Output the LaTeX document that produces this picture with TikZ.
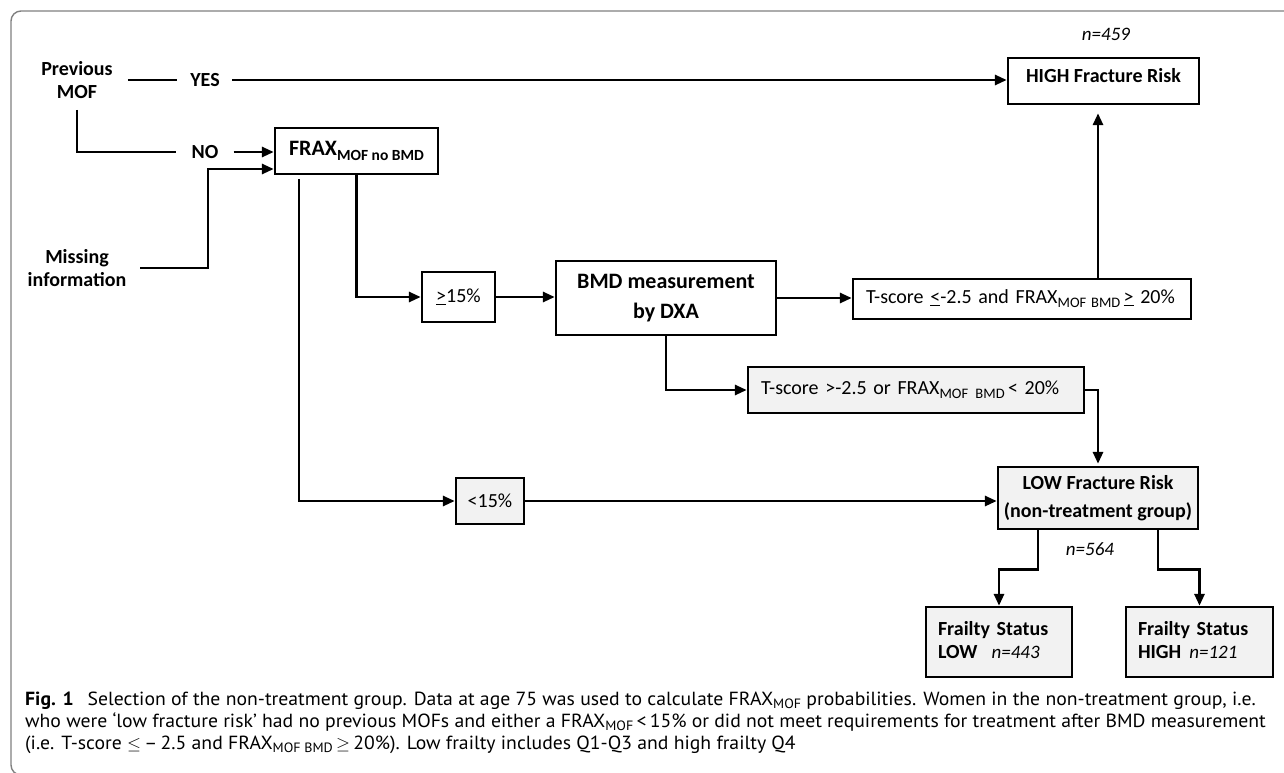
\documentclass[tikz,border=0pt]{standalone}
\usepackage{fontspec}
\setmainfont{Carlito}
\newfontfamily\capfont{PT Sans}
\usetikzlibrary{arrows.meta}
\definecolor{boxgray}{HTML}{F2F2F2}
\definecolor{framegray}{HTML}{808080}
\newcommand{\subA}[1]{\raisebox{-5pt}{\fontsize{15.5}{15.5}\selectfont #1}}
\newcommand{\subB}[1]{\raisebox{-4pt}{\fontsize{14.5}{14.5}\selectfont #1}}
\newcommand{\subC}[1]{\raisebox{-3.5pt}{\fontsize{13.5}{13.5}\selectfont #1}}
\newcommand{\capline}[1]{\scalebox{1.038}[1]{#1}}
\begin{document}
\begin{tikzpicture}[x=1pt,y=-1pt,
  box/.style={draw, line width=2.4pt, inner sep=0pt, align=center,
    font=\bfseries\fontsize{20}{23}\selectfont},
  graybox/.style={box, fill=boxgray},
  lbl/.style={inner sep=0pt, align=center, font=\bfseries\fontsize{20}{23}\selectfont},
  conn/.style={line width=2.9pt},
  arr/.style={conn, -{Triangle[length=12pt,width=10pt]}},
  nlab/.style={inner sep=0pt, font=\itshape\fontsize{19}{22}\selectfont},
  captxt/.style={inner sep=0pt, anchor=base west, font=\capfont\fontsize{19}{22}\selectfont}
]
\useasboundingbox (0,0) rectangle (1284,772);
% frame
\draw[framegray, line width=1.4pt, rounded corners=10pt] (1295,11) -- (11,11) -- (11,775) -- (1295,775);

% nodes
\node[lbl] (prev) at (77,80) {Previous\\MOF};
\node[lbl] (yes) at (205,80) {YES};
\node[lbl] (no) at (205,152) {NO};
\node[lbl] (miss) at (77,268) {Missing\\information};

\node[box, minimum width=191pt, minimum height=46pt] (high) at (1103.5,81) {\raisebox{12pt}{HIGH Fracture Risk}};
\node[box, minimum width=163pt, minimum height=46pt, font=\bfseries\fontsize{22}{26}\selectfont] (frax) at (356.5,151) {FRAX\subA{MOF no BMD}};
\node[box, minimum width=73pt, minimum height=50pt, font=\fontsize{20}{23}\selectfont] (ge15) at (458.5,297) {\underline{>}15\%};
\node[box, minimum width=220pt, minimum height=74pt, font=\bfseries\fontsize{22}{30}\selectfont] (bmd) at (666,298) {BMD measurement\\by DXA};
\node[box, minimum width=338pt, minimum height=40pt, text width=312pt, align=left, font=\fontsize{20}{23}\selectfont] (t1) at (1022,299) {T-score \underline{<}-2.5 and FRAX\subB{MOF\,\,BMD}\,\underline{>} 20\%};
\node[graybox, minimum width=336pt, minimum height=46pt, text width=310pt, align=left, font=\fontsize{20}{23}\selectfont] (t2) at (916,390) {T-score >-2.5 or FRAX\subB{MOF\,\,\,BMD}\,< 20\%};
\node[graybox, minimum width=68pt, minimum height=46pt, font=\fontsize{20}{23}\selectfont] (lt15) at (490,501) {<15\%};
\node[graybox, minimum width=200pt, minimum height=62pt, font=\bfseries\fontsize{20}{28}\selectfont] (low) at (1098,498) {LOW Fracture Risk\\(non-treatment group)};
\node[graybox, minimum width=146pt, minimum height=70pt, text width=122pt, align=left] (flow) at (999,642) {\raisebox{4pt}{Frailty Status}\\\raisebox{4pt}{LOW\hspace{14pt}{\mdseries\itshape\fontsize{19}{23}\selectfont n=443}}};
\node[graybox, minimum width=147pt, minimum height=70pt, text width=123pt, align=left] (fhigh) at (1199.5,642) {\raisebox{4pt}{Frailty Status}\\\raisebox{4pt}{HIGH\hspace{8pt}{\mdseries\itshape\fontsize{19}{23}\selectfont n=121}}};

\node[nlab] (n459) at (1106,34) {n=459};
\node[nlab] (n564) at (1090,549) {n=564};

% connectors
\draw[conn, shorten <=15pt, shorten >=13.5pt] (prev.east) -- (yes.west);
\draw[arr, shorten <=12.5pt] (yes.east) -- (high.west |- yes.east);
\draw[conn, shorten <=11pt, shorten >=15pt] (prev.south) |- (no.west);
\draw[arr, shorten <=15pt] (no.east) -- (frax.west |- no.east);
\coordinate (mbend) at (208,268);
\draw[arr, shorten <=14pt] (miss.east) -- (mbend) |- ([yshift=-18pt]frax.west);
\coordinate (fraxl) at ([xshift=-57.5pt]frax.south);
\draw[arr, shorten <=4pt] (fraxl) |- (lt15.west);
\draw[arr] (frax.south) |- (ge15.west);
\draw[arr] (ge15.east) -- (bmd.west |- ge15.east);
\draw[arr] (bmd.east) -- (t1.west |- bmd.east);
\draw[arr] (bmd.south) |- (t2.west);
\coordinate (tup) at ([xshift=76pt]t1.north);
\draw[arr, shorten >=8pt] (tup) -- (tup |- high.south);
\draw[arr, shorten >=2pt] (t2.east) -| (low.north);
\draw[arr] (lt15.east) -- (low.west |- lt15.east);
\coordinate (lsl) at ([xshift=-60pt]low.south);
\coordinate (lsr) at ([xshift=60pt]low.south);
\draw[arr] (lsl) -- ++(0,39) -| (flow.north);
\draw[arr] (lsr) -- ++(0,39) -| (fhigh.north);

% caption
\node[captxt] (cap1) at (25,705) {\capline{\textbf{Fig. 1}\hspace{0.7em}Selection of the non-treatment group. Data at age 75 was used to calculate FRAX\subC{MOF} probabilities. Women in the non-treatment group, i.e.}};
\node[captxt] (cap2) at (25,727) {\capline{who were ‘low fracture risk’ had no previous MOFs and either a FRAX\subC{MOF}\,<\,15\% or did not meet requirements for treatment after BMD measurement}};
\node[captxt] (cap3) at (25,749) {\capline{(i.e. T-score $\leq$\,–\,2.5 and FRAX\subC{MOF BMD}\,$\geq$\,20\%). Low frailty includes Q1-Q3 and high frailty Q4}};
\end{tikzpicture}
\end{document}
